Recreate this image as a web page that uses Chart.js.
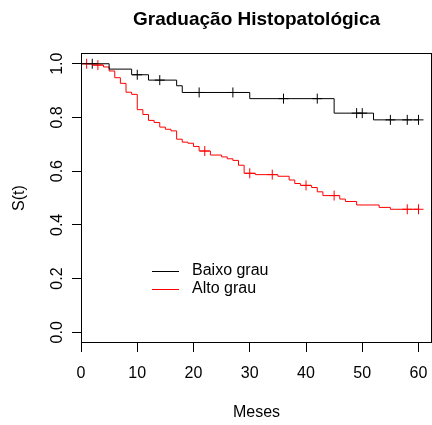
<!DOCTYPE html>
<html lang="pt">
<head>
<meta charset="utf-8">
<script src="https://cdn.jsdelivr.net/npm/chart.js@4.4.0/dist/chart.umd.min.js"></script>
<title>Graduação Histopatológica</title>
<style>
  html, body { margin: 0; padding: 0; background: #fff; }
</style>
</head>
<body>
<canvas id="km" width="432" height="425"></canvas>
<script>
// curvas de Kaplan-Meier (tempo em meses, S(t))
const baixoTempo = [0, 5, 9, 12, 17, 18, 30, 45, 52, 60];
const baixoSobr  = [1, 0.980, 0.959, 0.939, 0.918, 0.893, 0.870, 0.816, 0.791, 0.791];
const baixoCens  = [2, 10, 14, 21, 27, 36, 42, 49, 50, 55, 58, 60];

const altoTempo = [0, 2, 4, 5, 6, 7, 8, 9, 10, 11, 12, 13, 14, 15, 16, 17, 18, 19, 20, 21,
                   23, 25, 26, 27, 28, 29, 31, 35, 37, 38, 39, 41, 42, 43, 46, 47, 49, 53, 55, 60];
const altoSobr  = [1, 0.995, 0.988, 0.973, 0.948, 0.927, 0.894, 0.886, 0.829, 0.811, 0.789, 0.781,
                   0.764, 0.756, 0.750, 0.719, 0.708, 0.704, 0.692, 0.675, 0.660, 0.653, 0.646,
                   0.640, 0.622, 0.592, 0.587, 0.581, 0.567, 0.554, 0.547, 0.539, 0.523, 0.509,
                   0.496, 0.487, 0.474, 0.465, 0.458, 0.458];
const altoCens  = [1, 3, 22, 30, 34, 40, 45, 58, 60];

const xTicks = [0, 10, 20, 30, 40, 50, 60];
const yTicks = [0, 0.2, 0.4, 0.6, 0.8, 1.0];

const fonte = '"Liberation Sans", Arial, Helvetica, sans-serif';

function pontos(tempos, sobr) {
    return tempos.map((t, i) => ({x: t, y: sobr[i]}));
}
// valor da curva no tempo de cada censura
function censuras(cens, tempos, sobr) {
    return cens.map(t => {
        let s = sobr[0];
        tempos.forEach((tt, i) => { if (tt <= t) s = sobr[i]; });
        return {x: t, y: s};
    });
}

// caixa, titulo, rotulos do eixo y e legenda no estilo do R
const estiloR = {
    id: 'estiloR',
    afterDraw(chart) {
        const c = chart.ctx;
        const a = chart.chartArea;
        const ys = chart.scales.y;
        c.save();
        c.strokeStyle = '#000';
        c.lineWidth = 1;
        c.strokeRect(a.left + 0.5, a.top + 0.5, a.right - a.left - 1, a.bottom - a.top - 1);

        c.fillStyle = '#000';
        c.font = 'bold 19px ' + fonte;
        c.textAlign = 'center';
        c.textBaseline = 'alphabetic';
        c.fillText('Graduação Histopatológica', (a.left + a.right) / 2, 25);

        c.font = '16px ' + fonte;
        c.textBaseline = 'middle';
        ys.ticks.forEach(t => {
            const py = ys.getPixelForValue(t.value);
            c.save();
            c.translate(58, py);
            c.rotate(-Math.PI / 2);
            c.fillText(t.value.toFixed(1), 0, 0);
            c.restore();
        });

        // legenda
        const series = chart.data.datasets.filter(d => !d.censura);
        series.forEach((d, i) => {
            const ly = 271 + i * 18;
            c.strokeStyle = d.borderColor;
            c.beginPath();
            c.moveTo(152, ly + 0.5);
            c.lineTo(179, ly + 0.5);
            c.stroke();
            c.textAlign = 'left';
            c.fillText(d.label, 192, ly);
        });
        c.restore();
    }
};

new Chart(document.getElementById('km'), {
    type: 'line',
    plugins: [estiloR],
    data: {
        datasets: [
            {label: 'Baixo grau', data: pontos(baixoTempo, baixoSobr), borderColor: '#000000',
             borderWidth: 1, stepped: 'before', pointRadius: 0, fill: false},
            {label: 'Alto grau', data: pontos(altoTempo, altoSobr), borderColor: '#ff0000',
             borderWidth: 1, stepped: 'before', pointRadius: 0, fill: false},
            {label: 'censura baixo', censura: true, data: censuras(baixoCens, baixoTempo, baixoSobr),
             showLine: false, pointStyle: 'cross', pointRadius: 5, borderColor: '#000000', borderWidth: 1},
            {label: 'censura alto', censura: true, data: censuras(altoCens, altoTempo, altoSobr),
             showLine: false, pointStyle: 'cross', pointRadius: 5, borderColor: '#ff0000', borderWidth: 1}
        ]
    },
    options: {
        responsive: false,
        animation: false,
        devicePixelRatio: 1,
        layout: {autoPadding: false, padding: {top: 53, left: 0, right: 0, bottom: 0}},
        plugins: {legend: {display: false}, tooltip: {enabled: false}, title: {display: false}},
        scales: {
            x: {
                type: 'linear', min: 0, max: 62.4,
                afterBuildTicks: s => { s.ticks = xTicks.map(v => ({value: v})); },
                afterFit: s => { s.height = 82; s.paddingLeft = 0; s.paddingRight = 0; },
                grid: {drawOnChartArea: false, drawTicks: true, tickLength: 9, color: '#000'},
                border: {display: false},
                ticks: {color: '#000', padding: 12, maxRotation: 0, font: {family: fonte, size: 16}},
                title: {display: true, text: 'Meses', color: '#000', padding: {top: 3, bottom: 3},
                        font: {family: fonte, size: 16}}
            },
            y: {
                type: 'linear', min: -0.04, max: 1.04,
                afterBuildTicks: s => { s.ticks = yTicks.map(v => ({value: v})); },
                afterFit: s => { s.width = 81; s.paddingTop = 0; s.paddingBottom = 0; },
                grid: {drawOnChartArea: false, drawTicks: true, tickLength: 9, color: '#000'},
                border: {display: false},
                ticks: {display: false},
                title: {display: true, text: 'S(t)', color: '#000', padding: {top: 10, bottom: 10},
                        font: {family: fonte, size: 16}}
            }
        }
    }
});
</script>
</body>
</html>
